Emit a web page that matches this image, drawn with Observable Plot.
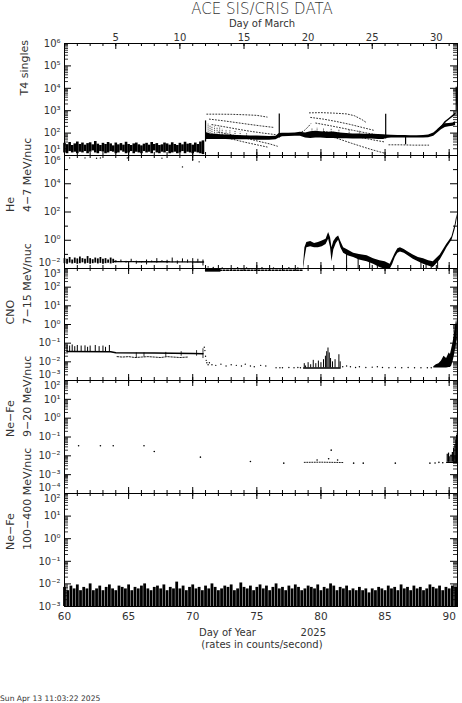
<!DOCTYPE html>
<html><head><meta charset="utf-8">
<script src="https://cdn.jsdelivr.net/npm/d3@7"></script>
<script src="https://cdn.jsdelivr.net/npm/@observablehq/plot@0.6"></script>
<style>
body{margin:0;background:#fff;}
#wrap{position:relative;width:462px;height:703px;overflow:hidden;font-family:"DejaVu Sans",sans-serif;}
#wrap svg{position:absolute;left:0;overflow:visible;background:transparent;}
</style></head><body><div id="wrap"></div>
<script>
// ---------- axis / tick data ----------
const xDomain = [60, 90.65];
const dayTicks = [60,61,62,63,64,65,66,67,68,69,70,71,72,73,74,75,76,77,78,79,80,81,82,83,84,85,86,87,88,89,90];
const bottomMajor = [60,65,70,75,80,85,90];
const xLabels = [60,65,70,75,80,85,90];
const marchDoy = [64,69,74,79,84,89];
const marchLabels = ["5","10","15","20","25","30"];

// ---------- panel 1: T4 singles ----------
const t4EarlyStart = 60, t4EarlyStep = 0.2;
const t4EarlyLo = [13,12,15,13,14,12,14,13,15,12, 14,16,13,12,15,14,12,13,15,14, 12,13,16,14,12,13,15,12,14,13, 12,15,13,14,12,16,13,12,14,13, 15,12,13,14,12,13,15,12,14,13, 12,14,13,12,11];
const t4EarlyHi = [35,30,38,28,33,40,31,36,29,34, 37,30,42,32,28,35,31,38,33,27, 36,30,34,29,39,31,28,33,36,30, 27,32,35,29,38,31,34,28,30,36, 33,29,37,31,28,35,30,39,32,34, 29,36,31,40,45];
const t4Main = [[71.0,50,110],[71.15,52,100],[71.4,52,92],[71.8,52,88],[72.2,52,85],[72.6,52,82],[73.0,50,80],[73.5,50,78],[74.0,50,76],[74.5,50,75],[75.0,48,74],[75.5,48,72],[76.0,48,70],[76.5,50,72],[76.75,60,95],[77.0,68,98],[77.5,70,98],[78.0,72,100],[78.4,72,108],[78.8,60,100],[79.2,58,115],[79.6,60,120],[80.0,60,115],[80.5,58,110],[81.0,58,112],[81.5,56,100],[82.0,56,95],[82.5,55,92],[83.0,55,92],[83.5,54,90],[84.0,54,90],[84.5,52,86],[84.9,52,84],[85.1,58,82],[85.5,60,80],[86.0,60,78],[86.5,60,78],[87.0,60,76],[87.5,60,76],[88.0,60,78],[88.4,62,82],[88.8,72,100],[89.1,100,140],[89.4,140,200],[89.7,180,260],[90.0,190,270],[90.3,200,280],[90.5,220,320]];
const t4Scatter = [[71.2,90,260],[71.35,80,220],[71.5,85,200],[71.7,80,190],[71.9,80,170],[72.1,75,180],[72.3,80,150],[72.6,75,140],[72.9,75,130],[73.3,70,120],[73.7,70,110],[74.2,68,100],[79.3,90,160],[79.7,90,170],[80.2,90,150],[80.8,85,160],[81.4,80,140],[82.2,80,130],[83.0,75,120]];
const t4Traces = [
  [[71.1,700],[72.0,700],[73.0,690],[74.0,660],[75.0,620],[75.8,520]],
  [[71.3,420],[72.3,360],[73.3,300],[74.3,250],[75.3,210],[76.3,180]],
  [[71.5,240],[72.5,190],[73.5,150],[74.5,120],[75.5,100],[76.5,85]],
  [[72.0,110],[73.0,85],[74.0,62],[75.0,45],[76.0,33],[76.6,26]],
  [[73.0,55],[74.0,40],[75.0,30],[75.8,24]],
  [[78.3,100],[78.7,130],[79.0,190],[79.2,260]],
  [[79.1,800],[80.0,820],[81.0,780],[82.0,720],[82.6,600],[83.2,400],[83.6,280]],
  [[79.2,500],[80.2,420],[81.2,330],[82.2,250],[83.2,180],[84.2,130]],
  [[79.6,280],[80.6,220],[81.6,170],[82.6,130],[83.6,100],[84.6,80]],
  [[80.8,70],[81.6,50],[82.4,35],[83.2,25],[84.0,18],[84.9,13]],
  [[80.2,120],[81.2,95],[82.2,78],[83.2,62],[84.2,48],[85.0,40]],
  [[85.3,30],[86.2,30],[87.2,29],[88.4,29]]
];
const t4Rise = [[89.1,140],[89.4,200],[89.7,330],[90.0,450],[90.3,620],[90.45,750]];
const t4Spikes = [[71.0,40,350],[76.75,60,720],[85.05,55,700],[86.6,30,75],[90.55,1000,11000],[90.6,2000,9000],[90.63,1500,6000]];
const t4Low = [[60.4,7.8],[61.6,7.8],[62.5,7.5],[62.8,7.8],[64.9,7.8],[67.6,7.6],[69.2,3.1],[70.0,6.8],[70.5,5.2]];

// ---------- panel 2: He 4-7 MeV/nuc ----------
const heEarly = [[60.0,.022,.05],[60.2,.02,.045],[60.4,.024,.06],[60.6,.021,.04],[60.8,.023,.055],[61.0,.02,.048],[61.2,.022,.065],[61.4,.025,.05],[61.6,.021,.045],[61.8,.023,.07],[62.0,.02,.05],[62.2,.022,.042],[62.4,.024,.055],[62.6,.021,.048],[62.8,.023,.06],[63.0,.02,.045],[63.2,.022,.05],[63.4,.024,.04],[63.6,.021,.055],[63.8,.023,.045]];
const heSparse = [[64.0,.025,.035],[64.4,.026,.04],[64.8,.024,.032],[65.2,.027,.045],[65.6,.02,.033],[66.0,.025,.03],[66.4,.018,.04],[66.8,.026,.034],[67.2,.024,.05],[67.6,.027,.036],[68.0,.022,.038],[68.4,.025,.055],[68.8,.02,.034],[69.2,.026,.048],[69.6,.024,.04],[70.0,.021,.05],[70.4,.025,.045],[70.8,.015,.04]];
const heBase = [[63.9,0.031],[67.0,0.030],[70.9,0.029]];
const heFloor = [[71.0,0.0075],[74.0,0.0075],[78.6,0.0075]];
const heFloorBar = [[71.0,0.0055,0.0095],[72.2,0.0055,0.0095]];
const heFloorDots = [[71.2,0.013],[71.6,0.012],[72.3,0.011],[73.5,0.0115],[74.2,0.011],[75.4,0.0112],[76.3,0.011],[77.5,0.0115],[78.2,0.011]];
const heMain = [[78.65,0.009,0.02],[78.75,0.05,0.3],[78.9,0.3,0.7],[79.2,0.35,0.8],[79.5,0.3,0.6],[79.8,0.3,0.7],[80.1,0.35,0.9],[80.4,0.5,1.2],[80.6,1.2,3.5],[80.75,0.3,1.5],[80.86,0.03,0.3],[81.0,0.2,0.8],[81.2,0.6,1.5],[81.38,1.0,2.0],[81.55,0.3,0.8],[81.77,0.12,0.3],[82.1,0.08,0.2],[82.55,0.06,0.12],[83.0,0.04,0.1],[83.6,0.03,0.08],[84.1,0.02,0.05],[84.6,0.012,0.035],[85.0,0.009,0.03],[85.4,0.009,0.02],[85.6,0.02,0.05],[85.8,0.06,0.12],[86.0,0.12,0.25],[86.2,0.15,0.3],[86.5,0.12,0.22],[86.8,0.08,0.15],[87.2,0.045,0.09],[87.6,0.03,0.06],[88.0,0.02,0.05],[88.4,0.015,0.035],[88.76,0.012,0.03],[89.0,0.02,0.05],[89.3,0.04,0.09],[89.6,0.12,0.25],[89.83,0.3,0.55],[90.0,0.5,0.9],[90.22,1.0,1.8],[90.35,2.5,5],[90.47,6,12],[90.56,15,35],[90.63,35,70]];
const heDips = [[82.0,0.1],[82.9,0.07],[83.8,0.05],[84.4,0.03],[85.1,0.02],[87.8,0.04],[88.2,0.03],[88.6,0.025],[89.1,0.04]];

// ---------- panel 3: CNO 7-15 MeV/nuc ----------
const cnoBase = [[60.2,0.036],[63.6,0.035],[64.0,0.031],[67.0,0.030],[70.0,0.028],[70.8,0.027]];
const cnoTicks = [[60.2,0.075],[60.4,0.07],[60.6,0.08],[60.8,0.065],[61.0,0.075],[61.3,0.07],[61.6,0.072],[61.8,0.06],[62.0,0.07],[62.4,0.075],[62.7,0.065],[63.0,0.07],[63.2,0.06],[63.5,0.075]];
const cnoTicks2 = [[65.6,0.016,0.03],[66.2,0.018,0.03],[67.9,0.018,0.032],[69.1,0.02,0.035],[70.3,0.02,0.04],[70.8,0.015,0.05]];
const cnoLow = [[64.1,0.019],[64.5,0.018],[65.0,0.019],[65.5,0.017],[66.0,0.018],[66.5,0.019],[67.0,0.018],[67.5,0.017],[68.0,0.019],[68.5,0.018],[69.0,0.017],[69.6,0.018]];
const cnoTransition = [[70.9,0.06],[70.95,0.04],[71.0,0.02],[71.05,0.012],[71.1,0.009],[71.2,0.007]];
const cnoDots = [[71.3,0.009],[71.5,0.007],[71.8,0.0065],[72.2,0.0075],[72.6,0.006],[73.0,0.007],[73.4,0.0065],[73.8,0.006],[74.1,0.0075],[74.5,0.006],[74.8,0.0055],[75.3,0.0065],[75.7,0.006],[76.5,0.0048],[76.8,0.0048],[77.0,0.0048],[77.5,0.005],[77.9,0.0048],[78.2,0.005],[78.4,0.0048],[81.7,0.0055],[82.0,0.006],[82.3,0.0055],[82.7,0.005],[83.0,0.0055],[83.5,0.005],[84.0,0.0052],[84.4,0.0055],[84.8,0.005],[85.3,0.0048],[85.8,0.005],[86.3,0.0048],[86.8,0.005],[87.3,0.0048],[87.8,0.0048],[88.3,0.0048],[88.6,0.0048]];
const cnoBurstFloor = [[78.65,0.0047],[81.5,0.0047]];
const cnoBurst = [[78.7,0.008],[78.8,0.006],[79.0,0.009],[79.2,0.007],[79.4,0.012],[79.6,0.008],[79.8,0.011],[80.0,0.009],[80.2,0.013],[80.35,0.02],[80.45,0.035],[80.55,0.055],[80.65,0.03],[80.75,0.015],[80.9,0.01],[81.1,0.013],[81.4,0.024],[81.5,0.01]];
const cnoEnd = [[88.8,0.0047,0.0055],[89.0,0.0047,0.007],[89.2,0.0047,0.008],[89.4,0.0047,0.011],[89.6,0.0047,0.02],[89.8,0.0047,0.015],[90.0,0.005,0.03],[90.1,0.005,0.025],[90.2,0.006,0.05],[90.3,0.01,0.1],[90.4,0.02,0.3],[90.5,0.05,0.8],[90.58,0.1,1.8],[90.64,0.15,1.0]];

// ---------- panel 4: Ne-Fe 9-20 MeV/nuc ----------
const neDots = [[61.1,0.034],[62.8,0.034],[63.8,0.034],[66.2,0.034],[67.0,0.017],[70.6,0.0085],[74.5,0.005],[77.1,0.0041],[80.6,0.007],[80.8,0.02],[81.3,0.006],[79.7,0.006],[82.55,0.0041],[83.3,0.0041],[85.8,0.0041],[88.5,0.0041],[88.9,0.0042],[89.2,0.0045],[89.5,0.0043]];
const neLine = [[78.7,0.0045],[80.0,0.0046],[81.8,0.0044]];
const neEnd = [[89.85,0.012],[89.95,0.014],[90.05,0.009],[90.15,0.011],[90.25,0.015],[90.35,0.025],[90.45,0.04],[90.52,0.07],[90.58,0.12],[90.63,0.16]];
const neEndFloor = [[89.8,0.0045],[90.65,0.0045]];

// ---------- panel 5: Ne-Fe 100-400 MeV/nuc ----------
const ne2Start = 60, ne2Step = 0.25, ne2Floor = 0.001;
const ne2Tops = [0.007,0.005,0.008,0.006,0.009,0.005,0.007,0.006,0.010,0.005,
0.006,0.008,0.005,0.007,0.009,0.006,0.005,0.008,0.007,0.006,
0.009,0.005,0.007,0.006,0.008,0.010,0.006,0.005,0.007,0.008,
0.006,0.009,0.005,0.007,0.006,0.012,0.006,0.008,0.005,0.007,
0.009,0.006,0.007,0.005,0.008,0.006,0.010,0.007,0.005,0.006,
0.008,0.007,0.009,0.005,0.006,0.011,0.007,0.006,0.008,0.005,
0.007,0.009,0.006,0.008,0.005,0.007,0.010,0.006,0.007,0.005,
0.008,0.006,0.009,0.007,0.005,0.006,0.008,0.007,0.006,0.009,
0.005,0.007,0.006,0.010,0.008,0.005,0.007,0.006,0.008,0.005,
0.006,0.005,0.007,0.005,0.006,0.004,0.006,0.005,0.007,0.006,
0.005,0.008,0.006,0.007,0.005,0.009,0.006,0.007,0.005,0.008,
0.006,0.007,0.005,0.006,0.009,0.007,0.006,0.008,0.005,0.007,
0.006,0.008,0.007];

// ---------- layout ----------
const W = 462, ML = 64, MR = 5, FW = W - ML - MR;
const PANEL_TOPS = [43,155,268,380,493];
const PANEL_H = [112,113,112,113,113];
const INK = "#000", TXT = "#333";
const wrap = document.getElementById("wrap");
const sup = {"0":"⁰","1":"¹","2":"²","3":"³","4":"⁴","5":"⁵","6":"⁶","7":"⁷","8":"⁸","9":"⁹","-":"⁻"};
const pow = d => "10" + String(Math.round(Math.log10(d))).replace(/./g, c => sup[c]);
function decadeList(dom){const a=Math.round(Math.log10(dom[0])),b=Math.round(Math.log10(dom[1]));const o=[];for(let k=a;k<=b;k++)o.push(10**k);return o;}
function minorList(dom){const a=Math.round(Math.log10(dom[0])),b=Math.round(Math.log10(dom[1]));const o=[];for(let k=a;k<b;k++)for(let m=2;m<=9;m++)o.push(m*10**k);return o;}
const X = d => d[0], Y = d => d[1], Y1 = d => d[1], Y2 = d => d[2];
const tf = {fill: TXT, fontFamily: "DejaVu Sans"};

function panel(idx, cfg){
  const H = PANEL_H[idx];
  const major = cfg.major || decadeList(cfg.domain);
  const marks = [...cfg.marks,
    Plot.frame({stroke: INK}),
    Plot.ruleX(dayTicks, {x: d => d, insetTop: H - 3, stroke: INK}),
    Plot.ruleX(bottomMajor, {x: d => d, insetTop: H - 6, stroke: INK}),
    Plot.ruleX(dayTicks, {x: d => d, insetBottom: H - 3, stroke: INK}),
    Plot.ruleX(cfg.topMajor || bottomMajor, {x: d => d, insetBottom: H - 6, stroke: INK}),
    Plot.ruleY(major, {y: d => d, insetRight: FW - 7, stroke: INK}),
    Plot.ruleY(major, {y: d => d, insetLeft: FW - 7, stroke: INK})
  ];
  if (cfg.minor) {
    const mn = minorList(cfg.domain);
    marks.push(Plot.ruleY(mn, {y: d => d, insetRight: FW - 4, stroke: INK, strokeWidth: 0.8}),
               Plot.ruleY(mn, {y: d => d, insetLeft: FW - 4, stroke: INK, strokeWidth: 0.8}));
  }
  if (cfg.half) {
    marks.push(Plot.ruleY(cfg.half, {y: d => d, insetRight: FW - 4, stroke: INK}),
               Plot.ruleY(cfg.half, {y: d => d, insetLeft: FW - 4, stroke: INK}));
  }
  const L = cfg.labels;
  const topL = [L[0]], botL = [L[L.length - 1]], midL = L.slice(1, -1);
  const lab = (data, dy) => Plot.text(data, {y: d => d, text: pow, frameAnchor: "left", textAnchor: "end", dx: -4, dy, fontSize: 10, ...tf});
  marks.push(lab(midL, 0), lab(topL, idx === 0 ? 0 : 5.5), lab(botL, idx === 4 ? 0 : -5.5));
  for (const [t, px, py] of cfg.titles) {
    marks.push(Plot.text([t], {text: d => d, frameAnchor: "left", dx: px - ML, dy: py || 0, rotate: -90, fontSize: 11, ...tf}));
  }
  if (cfg.extra) marks.push(...cfg.extra);
  const svg = Plot.plot({
    width: W, height: H, marginLeft: ML, marginRight: MR, marginTop: 0, marginBottom: 0,
    x: {domain: xDomain, axis: null},
    y: {type: "log", domain: cfg.domain, axis: null},
    style: {background: "transparent", overflow: "visible"},
    marks
  });
  svg.style.position = "absolute";
  svg.style.top = PANEL_TOPS[idx] + "px";
  svg.style.left = "0px";
  wrap.appendChild(svg);
}

const t4EarlyRows = t4EarlyLo.map((lo, i) => [t4EarlyStart + i * t4EarlyStep, lo, t4EarlyHi[i]]);
const t4TraceRows = t4Traces.flatMap((tr, k) => tr.map(p => [p[0], p[1], k]));
const ne2Rows = ne2Tops.map((v, i) => [ne2Start + i * ne2Step, ne2Floor, v]);

// Panel 1
panel(0, {
  domain: [10, 1e6], minor: true, topMajor: marchDoy,
  labels: [1e6,1e5,1e4,1e3,1e2,1e1],
  titles: [["T4 singles", 24, -4]],
  marks: [
    Plot.ruleX(t4EarlyRows, {x: X, y1: Y1, y2: Y2, stroke: INK, strokeWidth: 2.6}),
    Plot.line(t4TraceRows, {x: X, y: Y, z: d => d[2], stroke: INK, strokeWidth: 0.8, strokeDasharray: "1,2"}),
    Plot.ruleX(t4Scatter, {x: X, y1: Y1, y2: Y2, stroke: INK, strokeWidth: 0.8, strokeDasharray: "1,1"}),
    Plot.areaY(t4Main, {x: X, y1: Y1, y2: Y2, fill: INK}),
    Plot.line(t4Rise, {x: X, y: Y, stroke: INK, strokeWidth: 1.5}),
    Plot.ruleX(t4Spikes, {x: X, y1: Y1, y2: Y2, stroke: INK, strokeWidth: 1.2}),
    Plot.dot(t4Low, {x: X, y: Y, r: 0.7, fill: INK, stroke: null})
  ],
  extra: [Plot.text(marchDoy, {x: d => d, text: (d, i) => marchLabels[i], frameAnchor: "top", dy: -10, fontSize: 10, ...tf})]
});

// Panel 2
panel(1, {
  domain: [1e-2, 1e6], labels: [1e6,1e4,1e2,1e0,1e-2],
  major: [1e6,1e4,1e2,1e0,1e-2], half: [1e5,1e3,1e1,1e-1],
  titles: [["He", 10], ["4\u22127 MeV/nuc", 27]],
  marks: [
    Plot.ruleX(heEarly, {x: X, y1: Y1, y2: Y2, stroke: INK, strokeWidth: 1.8}),
    Plot.ruleX(heSparse, {x: X, y1: Y1, y2: Y2, stroke: INK, strokeWidth: 1}),
    Plot.line(heBase, {x: X, y: Y, stroke: INK, strokeWidth: 1.4, strokeDasharray: "2,1"}),
    Plot.areaY(heFloorBar, {x: X, y1: Y1, y2: Y2, fill: INK}),
    Plot.line(heFloor, {x: X, y: Y, stroke: INK, strokeWidth: 1.4, strokeDasharray: "2,1.5"}),
    Plot.dot(heFloorDots, {x: X, y: Y, r: 0.7, fill: INK, stroke: null}),
    Plot.areaY(heMain, {x: X, y1: Y1, y2: Y2, fill: INK}),
    Plot.ruleX(heDips, {x: X, y1: () => 0.009, y2: Y, stroke: INK, strokeWidth: 1})
  ]
});

// Panel 3
panel(2, {
  domain: [1e-3, 1e3], minor: true, labels: [1e3,1e2,1e1,1e0,1e-1,1e-2,1e-3],
  titles: [["CNO", 10], ["7\u221215 MeV/nuc", 27]],
  marks: [
    Plot.line(cnoBase, {x: X, y: Y, stroke: INK, strokeWidth: 1.5}),
    Plot.ruleX(cnoTicks, {x: X, y1: () => 0.034, y2: Y, stroke: INK, strokeWidth: 1}),
    Plot.ruleX(cnoTicks2, {x: X, y1: Y1, y2: Y2, stroke: INK, strokeWidth: 0.8}),
    Plot.line(cnoLow, {x: X, y: Y, stroke: INK, strokeWidth: 0.9, strokeDasharray: "1.5,1.5"}),
    Plot.dot(cnoTransition, {x: X, y: Y, r: 0.7, fill: INK, stroke: null}),
    Plot.dot(cnoDots, {x: X, y: Y, r: 0.7, fill: INK, stroke: null}),
    Plot.line(cnoBurstFloor, {x: X, y: Y, stroke: INK, strokeWidth: 1.5}),
    Plot.ruleX(cnoBurst, {x: X, y1: () => 0.0047, y2: Y, stroke: INK, strokeWidth: 1}),
    Plot.areaY(cnoEnd, {x: X, y1: Y1, y2: Y2, fill: INK})
  ]
});

// Panel 4
panel(3, {
  domain: [1e-4, 1e2], minor: true, labels: [1e2,1e1,1e0,1e-1,1e-2,1e-3,1e-4],
  titles: [["Ne\u2212Fe", 10], ["9\u221220 MeV/nuc", 27]],
  marks: [
    Plot.dot(neDots, {x: X, y: Y, r: 0.8, fill: INK, stroke: null}),
    Plot.line(neLine, {x: X, y: Y, stroke: INK, strokeWidth: 0.9, strokeDasharray: "1,1.5"}),
    Plot.line(neEndFloor, {x: X, y: Y, stroke: INK, strokeWidth: 1.3}),
    Plot.ruleX(neEnd, {x: X, y1: () => 0.0045, y2: Y, stroke: INK, strokeWidth: 1.2})
  ]
});

// Panel 5
panel(4, {
  domain: [1e-3, 1e2], minor: true, labels: [1e2,1e1,1e0,1e-1,1e-2,1e-3],
  titles: [["Ne\u2212Fe", 10], ["100\u2212400 MeV/nuc", 27]],
  marks: [
    Plot.ruleX(ne2Rows, {x: X, y1: Y1, y2: Y2, stroke: INK, strokeWidth: 2.8})
  ],
  extra: [Plot.text(xLabels, {x: d => d, text: d => String(d), frameAnchor: "bottom", dy: 13, fontSize: 10.5, ...tf})]
});

// ---------- page-level text ----------
const page = d3.select(wrap).append("svg").attr("width", W).attr("height", 703)
  .style("top", "0px").style("left", "0px").style("pointer-events", "none")
  .attr("font-family", "DejaVu Sans").attr("fill", TXT);
page.append("text").attr("x", 262).attr("y", 9).attr("dy", "0.35em").attr("text-anchor", "middle").attr("font-size", 15).attr("font-weight", 300).text("ACE SIS/CRIS DATA");
page.append("text").attr("x", 262).attr("y", 23).attr("dy", "0.35em").attr("text-anchor", "middle").attr("font-size", 10).text("Day of March");
page.append("text").attr("x", 199).attr("y", 632).attr("dy", "0.35em").attr("text-anchor", "start").attr("font-size", 10).text("Day of Year");
page.append("text").attr("x", 326).attr("y", 632).attr("dy", "0.35em").attr("text-anchor", "end").attr("font-size", 10).text("2025");
page.append("text").attr("x", 262).attr("y", 644).attr("dy", "0.35em").attr("text-anchor", "middle").attr("font-size", 10).text("(rates in counts/second)");
page.append("text").attr("x", 0).attr("y", 698).attr("dy", "0.35em").attr("text-anchor", "start").attr("font-size", 7.6).text("Sun Apr 13 11:03:22 2025");
</script></body></html>
